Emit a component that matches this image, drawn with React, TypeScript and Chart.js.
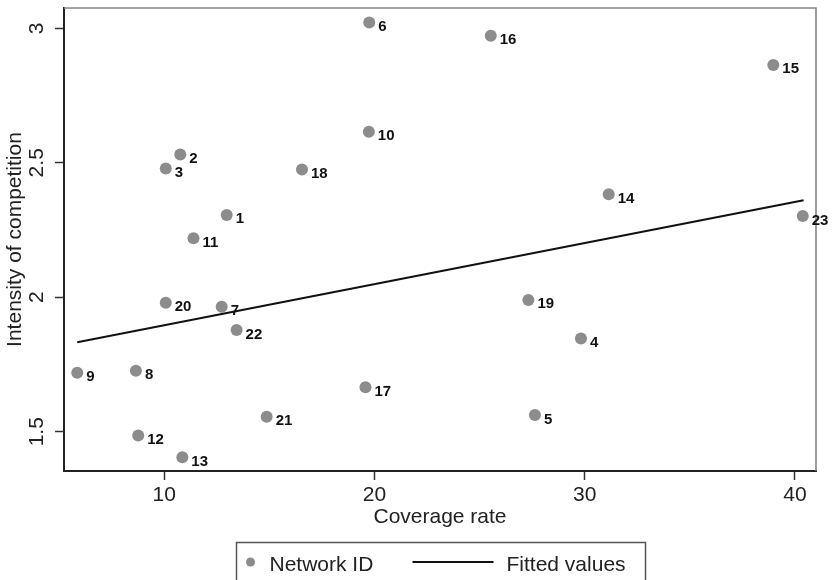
import React, { useEffect, useRef } from "react";
import { Chart, registerables } from "chart.js";

Chart.register(...registerables);

// ---- data ----
const networkIds = [1, 2, 3, 4, 5, 6, 7, 8, 9, 10, 11, 12, 13, 14, 15, 16, 17, 18, 19, 20, 21, 22, 23];
const coverageRate = [12.97, 10.76, 10.07, 29.82, 27.63, 19.75, 12.73, 8.65, 5.86, 19.73, 11.39, 8.76, 10.86, 31.14, 38.97, 25.53, 19.57, 16.55, 27.32, 10.07, 14.87, 13.44, 40.37];
const intensity = [2.306, 2.531, 2.479, 1.847, 1.562, 3.022, 1.965, 1.727, 1.719, 2.615, 2.219, 1.486, 1.405, 2.383, 2.864, 2.972, 1.665, 2.475, 1.99, 1.98, 1.556, 1.878, 2.302];
const fittedX = [5.86, 40.41];
const fittedY = [1.833, 2.361];
const xTicks = [10, 20, 30, 40];
const yTicks = [1.5, 2, 2.5, 3];
const xRange = [5.23, 41.0];
const yRange = [1.354, 3.0755];
const seriesLabels = ["Network ID", "Fitted values"];
const axisTitles = { x: "Coverage rate", y: "Intensity of competition" };

const FONT = "'Liberation Sans', Arial, Helvetica, sans-serif";
const POINT_COLOR = "#8c8c8c";
const LINE_COLOR = "#111111";
const TEXT_COLOR = "#222222";

const pointLabelsPlugin = {
  id: "pointLabels",
  afterDatasetsDraw(chart: any) {
    const ctx = chart.ctx;
    const meta = chart.getDatasetMeta(0);
    ctx.save();
    ctx.font = `bold 15px ${FONT}`;
    ctx.fillStyle = "#111";
    ctx.textAlign = "left";
    ctx.textBaseline = "alphabetic";
    meta.data.forEach((el: any, i: number) => {
      ctx.fillText(String(networkIds[i]), el.x + 9, el.y + 8.5);
    });
    ctx.restore();
  },
};

const framePlugin = {
  id: "frame",
  beforeDatasetsDraw(chart: any) {
    const { ctx, chartArea } = chart;
    ctx.save();
    ctx.strokeStyle = "#858585";
    ctx.lineWidth = 1.6;
    ctx.beginPath();
    ctx.moveTo(chartArea.left, chartArea.top);
    ctx.lineTo(chartArea.right, chartArea.top);
    ctx.lineTo(chartArea.right, chartArea.bottom);
    ctx.stroke();
    ctx.restore();
  },
};

const boxLegendPlugin = {
  id: "boxLegend",
  afterDraw(chart: any) {
    const { ctx, chartArea } = chart;
    const ds = chart.data.datasets;
    const w = 409;
    const left = Math.round((chartArea.left + chartArea.right) / 2 - w / 2) + 0.5;
    const top = 542.5;
    ctx.save();
    ctx.strokeStyle = "#555";
    ctx.lineWidth = 1.5;
    ctx.strokeRect(left, top, w, 60);
    // scatter item
    ctx.fillStyle = ds[0].backgroundColor;
    ctx.beginPath();
    ctx.arc(left + 14, top + 19.5, 4.5, 0, Math.PI * 2);
    ctx.fill();
    ctx.font = `21px ${FONT}`;
    ctx.fillStyle = TEXT_COLOR;
    ctx.textBaseline = "alphabetic";
    ctx.textAlign = "left";
    ctx.fillText(ds[0].label, left + 33, top + 28.5);
    // line item
    ctx.strokeStyle = ds[1].borderColor;
    ctx.lineWidth = 2;
    ctx.beginPath();
    ctx.moveTo(left + 176, top + 19.5);
    ctx.lineTo(left + 257, top + 19.5);
    ctx.stroke();
    ctx.fillText(ds[1].label, left + 270, top + 28.5);
    ctx.restore();
  },
};

export default function App() {
  const ref = useRef<HTMLCanvasElement>(null);

  useEffect(() => {
    if (!ref.current) return;
    const chart = new Chart(ref.current, {
      type: "scatter",
      data: {
        datasets: [
          {
            label: seriesLabels[0],
            data: coverageRate.map((x, i) => ({ x, y: intensity[i] })),
            backgroundColor: POINT_COLOR,
            borderColor: POINT_COLOR,
            borderWidth: 0,
            pointRadius: 6,
            order: 1,
          },
          {
            label: seriesLabels[1],
            data: fittedX.map((x, i) => ({ x, y: fittedY[i] })),
            showLine: true,
            borderColor: LINE_COLOR,
            backgroundColor: LINE_COLOR,
            borderWidth: 2,
            pointRadius: 0,
            order: 0,
          } as any,
        ],
      },
      options: {
        animation: false,
        responsive: true,
        maintainAspectRatio: false,
        layout: { padding: { top: 8, right: 16, bottom: 50, left: 0 } },
        plugins: {
          legend: { display: false },
          tooltip: { enabled: false },
        },
        scales: {
          x: {
            type: "linear",
            min: xRange[0],
            max: xRange[1],
            afterBuildTicks: (scale: any) => {
              scale.ticks = xTicks.map((v) => ({ value: v }));
            },
            afterFit: (scale: any) => {
              scale.height = 59;
              scale.paddingLeft = 0;
              scale.paddingRight = 0;
            },
            grid: {
              drawOnChartArea: false,
              drawTicks: true,
              tickLength: 9,
              tickColor: "#333",
              tickWidth: 1.5,
            },
            border: { display: true, color: "#222", width: 2 },
            ticks: {
              autoSkip: false,
              maxRotation: 0,
              padding: 3,
              color: TEXT_COLOR,
              font: { family: FONT, size: 21 },
              callback: (v: any) => String(v),
            },
            title: {
              display: true,
              text: axisTitles.x,
              color: TEXT_COLOR,
              font: { family: FONT, size: 21 },
              padding: { top: 0, bottom: 0 },
            },
          },
          y: {
            type: "linear",
            min: yRange[0],
            max: yRange[1],
            afterBuildTicks: (scale: any) => {
              scale.ticks = yTicks.map((v) => ({ value: v }));
            },
            afterFit: (scale: any) => {
              scale.width = 64;
              scale.paddingTop = 0;
              scale.paddingBottom = 0;
            },
            grid: {
              drawOnChartArea: false,
              drawTicks: true,
              tickLength: 9,
              tickColor: "#333",
              tickWidth: 1.5,
            },
            border: { display: true, color: "#222", width: 2 },
            ticks: {
              autoSkip: false,
              minRotation: 90,
              maxRotation: 90,
              crossAlign: "center",
              padding: 3.5,
              color: TEXT_COLOR,
              font: { family: FONT, size: 21 },
              callback: (v: any) => String(v),
            },
            title: {
              display: true,
              text: axisTitles.y,
              color: TEXT_COLOR,
              font: { family: FONT, size: 21 },
              padding: { top: 3, bottom: 0 },
            },
          },
        },
      },
      plugins: [framePlugin, pointLabelsPlugin, boxLegendPlugin],
    } as any);
    return () => chart.destroy();
  }, []);

  return (
    <div style={{ position: "absolute", left: 0, top: 0, width: 832, height: 580 }}>
      <canvas ref={ref} />
    </div>
  );
}
